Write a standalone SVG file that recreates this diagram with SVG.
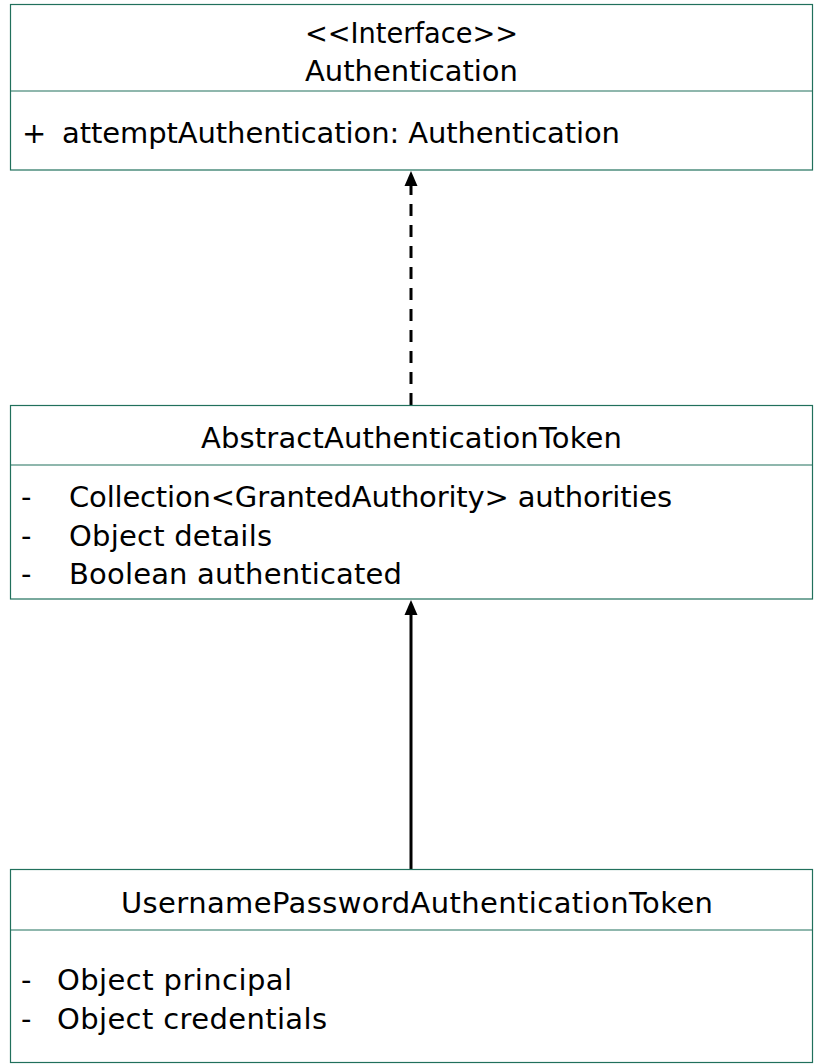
<svg xmlns="http://www.w3.org/2000/svg" width="814" height="1064" viewBox="0 0 814 1064">
  <style>
    .box { fill: #ffffff; stroke: #21705c; stroke-width: 1.2; }
    .div { stroke: #21705c; stroke-width: 1.2; }
    text { font-family: "DejaVu Sans", "Liberation Sans", sans-serif; font-size: 29px; fill: #000000; }
    .c { text-anchor: middle; }
    .edge { stroke: #000000; stroke-width: 3; fill: none; }
    .dash { stroke-dasharray: 12 9; }
  </style>
  <rect width="814" height="1064" fill="#ffffff"/>

  <g id="edges">
    <line class="edge dash" x1="411" y1="405" x2="411" y2="186"/>
    <path d="M411 171 L417.5 186 L404.5 186 Z" fill="#000000"/>
    <line class="edge" x1="411" y1="869" x2="411" y2="614"/>
    <path d="M411 600 L417.5 615 L404.5 615 Z" fill="#000000"/>
  </g>

  <g id="authentication">
    <rect class="box" x="10.5" y="4.5" width="802" height="165.5"/>
    <line class="div" x1="10.5" y1="91" x2="812.5" y2="91"/>
    <text class="c" x="411.5" y="43" textLength="213" lengthAdjust="spacingAndGlyphs">&lt;&lt;Interface&gt;&gt;</text>
    <text class="c" x="411.5" y="81" textLength="213">Authentication</text>
    <text x="22" y="143">+</text>
    <text x="62" y="143" textLength="558">attemptAuthentication: Authentication</text>
  </g>

  <g id="abstractAuthenticationToken">
    <rect class="box" x="10.5" y="405.5" width="802" height="193.5"/>
    <line class="div" x1="10.5" y1="465" x2="812.5" y2="465"/>
    <text class="c" x="411.5" y="448" textLength="421">AbstractAuthenticationToken</text>
    <text x="21" y="507">-</text>
    <text x="69" y="507" textLength="603">Collection&lt;GrantedAuthority&gt; authorities</text>
    <text x="21" y="546">-</text>
    <text x="69" y="546" textLength="203">Object details</text>
    <text x="21" y="584">-</text>
    <text x="69" y="584" textLength="333">Boolean authenticated</text>
  </g>

  <g id="usernamePasswordAuthenticationToken">
    <rect class="box" x="10.5" y="869.5" width="802" height="193"/>
    <line class="div" x1="10.5" y1="930" x2="812.5" y2="930"/>
    <text class="c" x="417" y="913" textLength="592">UsernamePasswordAuthenticationToken</text>
    <text x="21" y="990">-</text>
    <text x="57" y="990" textLength="235">Object principal</text>
    <text x="21" y="1029">-</text>
    <text x="57" y="1029" textLength="270">Object credentials</text>
  </g>
</svg>
